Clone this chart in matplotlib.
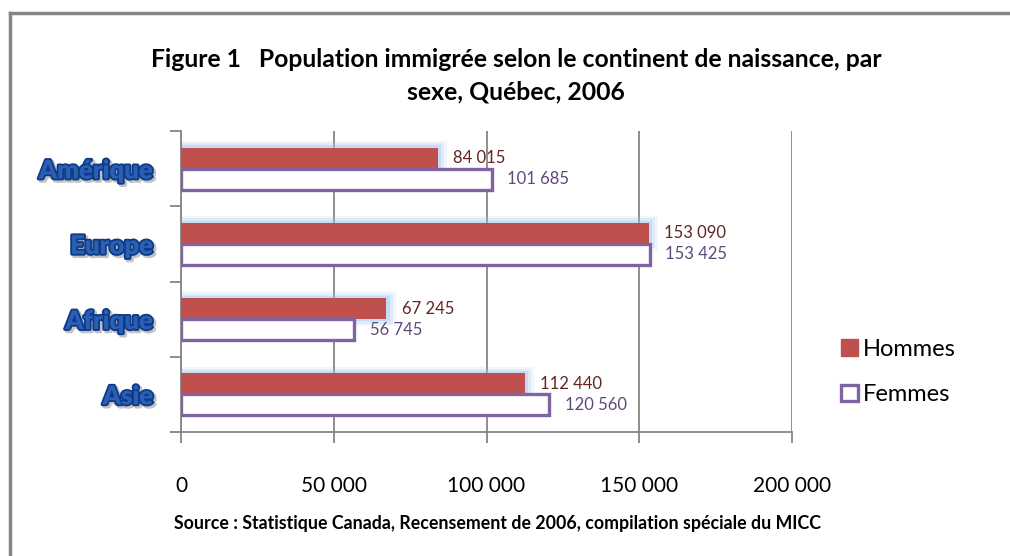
import numpy as np
import matplotlib
matplotlib.use('Agg')
import matplotlib.pyplot as plt
import matplotlib.patheffects as pe
from matplotlib.patches import Patch
from matplotlib.lines import Line2D

plt.rcParams['font.family'] = ['Lato', 'DejaVu Sans']

# data (bottom to top on the chart)
continents = ['Asie', 'Afrique', 'Europe', 'Amérique']
hommes = [112440, 67245, 153090, 84015]
femmes = [120560, 56745, 153425, 101685]
xticks = [0, 50000, 100000, 150000, 200000]
xtick_labels = ['0', '50 000', '100 000', '150 000', '200 000']

title = ('Figure 1   Population immigrée selon le continent de naissance, par\n'
         'sexe, Québec, 2006')
source = 'Source : Statistique Canada, Recensement de 2006, compilation spéciale du MICC'

red = '#C0504D'
purple = '#8064A2'
grey = '#868686'


def fmt(v):
    return '{:,}'.format(v).replace(',', ' ')


fig = plt.figure(figsize=(10.10, 5.56), dpi=100)
ax = fig.add_axes([181 / 1010, 1 - 432 / 556, (792 - 181) / 1010, (432 - 131) / 556])

y = np.arange(len(continents))
h = 0.28
off = 0.14

# soft blue glow behind the Hommes bars
for k, a in [(0.09, 0.15), (0.06, 0.22), (0.03, 0.35)]:
    ax.barh(y + off, np.array(hommes) + k * 35000, height=h + 2 * k,
            color='#9DC3EE', alpha=a, linewidth=0, zorder=1)

ax.barh(y + off, hommes, height=h, color=red, linewidth=0, zorder=3)
ax.barh(y - off, femmes, height=h, color='white', edgecolor=purple,
        linewidth=2.4, zorder=3)

for i in range(len(continents)):
    ax.text(hommes[i] + 5000, y[i] + off, fmt(hommes[i]), va='center', ha='left',
            fontsize=12, color='#632523', zorder=4)
    ax.text(femmes[i] + 5000, y[i] - off, fmt(femmes[i]), va='center', ha='left',
            fontsize=12, color='#5F497A', zorder=4)

ax.set_xlim(0, 200000)
ax.set_ylim(-0.5, 3.5)
ax.set_xticks(xticks)
ax.set_xticklabels(xtick_labels, fontsize=15)
ax.xaxis.grid(True, color=grey, linewidth=1.3, zorder=0)
ax.set_axisbelow(True)

# category ticks sit at the band edges, labels in the middle
ax.set_yticks(np.arange(-0.5, 4, 1.0))
ax.set_yticklabels([])
ax.set_yticks(y, minor=True)
ax.set_yticklabels(continents, minor=True, fontsize=18.5, fontweight='heavy',
                   color='#2A5FB5')
ax.tick_params(axis='y', which='minor', length=0, pad=20)
for lab in ax.get_yticklabels(minor=True):
    lab.set_path_effects([pe.SimpleLineShadow(offset=(1.5, -1.5), shadow_color='#888888',
                                              alpha=0.5, linewidth=3),
                          pe.Stroke(linewidth=2.6, foreground='#0D3B85'),
                          pe.Normal()])

ax.tick_params(axis='both', which='major', direction='out', length=8,
               width=1.3, color=grey)
ax.tick_params(axis='x', pad=24)
for s in ['top', 'right']:
    ax.spines[s].set_visible(False)
for s in ['left', 'bottom']:
    ax.spines[s].set_color(grey)
    ax.spines[s].set_linewidth(1.3)

fig.text(516 / 1010, 1 - 76 / 556, title, ha='center', va='center',
         fontsize=17.8, fontweight='bold', linespacing=1.5)
fig.text(498 / 1010, 1 - 523 / 556, source, ha='center', va='center',
         fontsize=12.8, fontweight='bold')

handles = [Patch(facecolor=red, edgecolor=red),
           Patch(facecolor='white', edgecolor=purple, linewidth=2.4)]
fig.legend(handles, ['Hommes', 'Femmes'], loc='center left',
           bbox_to_anchor=(820 / 1010, 1 - 372 / 556), frameon=False,
           fontsize=17, handlelength=0.7, handleheight=0.7,
           handletextpad=0.2, labelspacing=1.05)

# chart frame (only top and left edges are in view)
fig.add_artist(Line2D([9.5 / 1010, 1.01], [1 - 12.5 / 556, 1 - 12.5 / 556],
                      color=grey, linewidth=2.5, transform=fig.transFigure))
fig.add_artist(Line2D([9.5 / 1010, 9.5 / 1010], [-0.01, 1 - 12.5 / 556],
                      color=grey, linewidth=2.5, transform=fig.transFigure))

fig.savefig('out.png', dpi=100)
